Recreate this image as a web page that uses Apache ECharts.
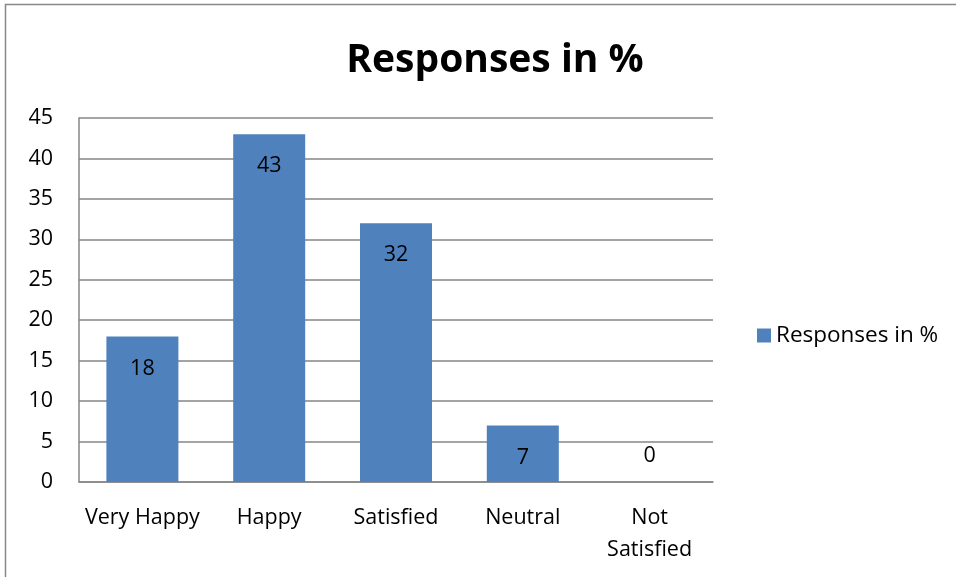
<!DOCTYPE html>
<html><head><meta charset="utf-8">
<script src="https://cdn.jsdelivr.net/npm/echarts@6/dist/echarts.min.js"></script>
<style>html,body{margin:0;padding:0;background:#fff}#c{width:956px;height:577px}</style>
</head><body><div id="c"></div>
<script>
const categories = ['Very Happy', 'Happy', 'Satisfied', 'Neutral', 'Not Satisfied'];
const values = [18, 43, 32, 7, 0];
const seriesName = 'Responses in %';
const titleText = 'Responses in %';

const FONT = 'Open Sans';
const FS = 21.5;
const chart = echarts.init(document.getElementById('c'), null, {renderer: 'canvas'});
chart.setOption({
  animation: false,
  backgroundColor: '#fff',
  graphic: [{
    type: 'rect', shape: {x: 5.5, y: 4.5, width: 960, height: 580},
    style: {fill: 'none', stroke: '#888', lineWidth: 1.5}, silent: true
  }],
  title: {
    text: titleText, left: 490, top: 36, textAlign: 'center',
    textStyle: {fontFamily: FONT, fontWeight: 'bold', fontSize: 39, color: '#000'}
  },
  legend: {
    left: 752, top: 319, itemWidth: 14, itemHeight: 14, icon: 'rect', itemGap: 8,
    textStyle: {fontFamily: FONT, fontSize: 22.5, color: '#000'}
  },
  grid: {left: 79, right: 243, top: 118, bottom: 95, containLabel: false},
  xAxis: {
    type: 'category', data: categories,
    axisLine: {lineStyle: {color: '#868686', width: 1.5}},
    axisTick: {show: false},
    axisLabel: {
      interval: 0,
      fontFamily: FONT, fontSize: FS, color: '#000', margin: 20, lineHeight: 32,
      formatter: v => v === 'Not Satisfied' ? 'Not\nSatisfied' : v
    }
  },
  yAxis: {
    type: 'value', min: 0, max: 45, interval: 5,
    axisLine: {show: true, lineStyle: {color: '#868686', width: 1.5}},
    axisTick: {show: false},
    splitLine: {lineStyle: {color: '#868686', width: 1.5}},
    axisLabel: {fontFamily: FONT, fontSize: FS, color: '#000', margin: 26}
  },
  series: [{
    name: seriesName, type: 'bar', barWidth: 72,
    itemStyle: {color: '#4F81BD'},
    data: values.map(v => v === 0
      ? {value: v, label: {position: 'top', distance: 15}}
      : v),
    label: {
      show: true, position: 'insideTop', distance: 21,
      fontFamily: FONT, fontSize: FS, color: '#000'
    }
  }]
});
</script></body></html>
